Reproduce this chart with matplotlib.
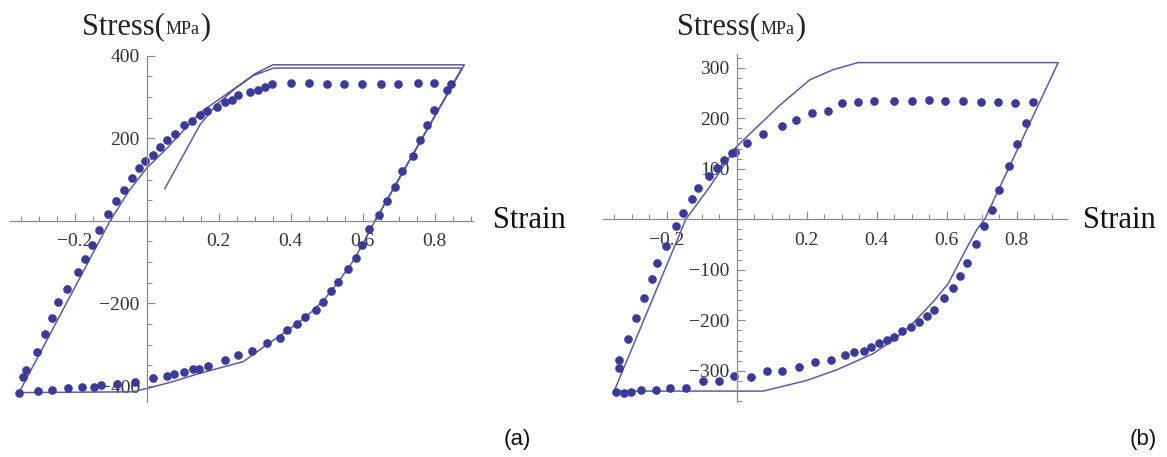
import numpy as np
import matplotlib
matplotlib.use('Agg')
import matplotlib.pyplot as plt
import matplotlib.ticker as ticker

# ---- panel (a) : measured points and fitted loop ----
a_dot_x = [-0.355, -0.343, -0.336, -0.304, -0.282, -0.264, -0.246, -0.223, -0.192, -0.173,
           -0.153, -0.132, -0.108, -0.086, -0.063, -0.040, -0.022, -0.005, 0.017, 0.037,
           0.056, 0.077, 0.102, 0.126, 0.148, 0.168, 0.196, 0.218, 0.238, 0.254,
           0.287, 0.308, 0.327, 0.347, 0.401, 0.451, 0.500, 0.549, 0.599, 0.651,
           0.697, 0.753, 0.799, 0.845, 0.833, 0.799, 0.778, 0.759, 0.738, 0.710,
           0.688, 0.668, 0.645, 0.618, 0.599, 0.581, 0.558, 0.532, 0.511, 0.488,
           0.469, 0.440, 0.417, 0.390, 0.370, 0.333, 0.293, 0.254, 0.218, 0.169,
           0.145, 0.127, 0.102, 0.076, 0.057, 0.017, -0.033, -0.083, -0.128, -0.148,
           -0.181, -0.218, -0.262, -0.303]
a_dot_y = [-416, -379, -361, -317, -274, -236, -197, -166, -123, -92,
           -58, -22, 17, 47, 75, 103, 127, 144, 159, 179,
           196, 211, 231, 242, 256, 267, 276, 288, 293, 304,
           312, 318, 323, 331, 334, 334, 331, 331, 331, 331,
           331, 334, 334, 331, 316, 269, 231, 195, 158, 121,
           82, 47, 13, -20, -58, -90, -117, -147, -170, -196,
           -216, -232, -250, -264, -284, -297, -314, -326, -337, -352,
           -359, -359, -365, -371, -375, -381, -390, -395, -398, -403,
           -403, -406, -410, -412]

a_line_x = [0.05, 0.148, 0.19, 0.245, 0.30, 0.35, 0.882, 0.634, 0.60, 0.575, 0.53, 0.488,
            0.44, 0.39, 0.333, 0.268, 0.148, 0.07, 0.0, -0.04, -0.355, -0.102, -0.051,
            0.0, 0.056, 0.148, 0.241, 0.296, 0.352, 0.875, 0.634]
a_line_y = [78, 233, 278, 320, 356, 378, 378, 0, -55, -95, -150, -196,
            -234, -266, -300, -341, -369, -390, -406, -414, -416, 0, 71,
            128, 176, 262, 319, 352, 370, 370, 0]

# ---- panel (b) ----
b_dot_x = [-0.345, -0.335, -0.335, -0.311, -0.288, -0.265, -0.243, -0.227, -0.202, -0.174,
           -0.153, -0.127, -0.111, -0.079, -0.057, -0.035, -0.014, -0.005, 0.031, 0.076,
           0.129, 0.171, 0.214, 0.260, 0.302, 0.346, 0.392, 0.449, 0.500, 0.549,
           0.595, 0.646, 0.698, 0.746, 0.795, 0.846, 0.827, 0.802, 0.779, 0.750,
           0.729, 0.707, 0.683, 0.659, 0.638, 0.617, 0.592, 0.564, 0.543, 0.521,
           0.497, 0.474, 0.450, 0.430, 0.407, 0.384, 0.364, 0.335, 0.311, 0.269,
           0.224, 0.179, 0.131, 0.087, 0.040, -0.007, -0.050, -0.097, -0.146, -0.191,
           -0.231, -0.274, -0.303, -0.321]
b_dot_y = [-341, -295, -278, -237, -195, -156, -119, -86, -53, -13,
           12, 40, 62, 86, 101, 118, 131, 134, 151, 169,
           184, 197, 211, 215, 230, 232, 234, 234, 234, 236,
           234, 234, 232, 232, 231, 232, 190, 149, 106, 57,
           19, -14, -49, -87, -112, -136, -156, -179, -191, -203,
           -214, -221, -232, -239, -245, -253, -260, -262, -268, -278,
           -283, -292, -300, -300, -313, -310, -321, -321, -333, -333,
           -337, -337, -341, -343]

b_line_x = [-0.35, -0.145, -0.076, 0.0, 0.124, 0.209, 0.276, 0.347, 0.919, 0.709, 0.686,
            0.652, 0.605, 0.562, 0.495, 0.447, 0.39, 0.286, 0.2, 0.1, 0.076, -0.35]
b_line_y = [-340, 0, 65, 144, 226, 276, 296, 310, 310, 0, -21,
            -64, -127, -163, -212, -239, -266, -298, -319, -336, -340, -340]

a_yticks = [-400, -200, 200, 400]
b_yticks = [-300, -200, -100, 100, 200, 300]
xticks = [-0.2, 0.2, 0.4, 0.6, 0.8]

dot_color = '#3a3a98'
line_color = '#5b5bab'
axis_color = '#8a8a8a'
serif = 'Liberation Serif'

fig = plt.figure(figsize=(11.67, 4.57), dpi=100)


def fmt(v, pos=None):
    s = ('%g' % v)
    return s.replace('-', '\u2212')


def setup_axes(ax, xlim, ylim, yticks, yminor):
    ax.set_xlim(*xlim)
    ax.set_ylim(*ylim)
    for side in ['top', 'right']:
        ax.spines[side].set_visible(False)
    for side in ['left', 'bottom']:
        ax.spines[side].set_position(('data', 0))
        ax.spines[side].set_color(axis_color)
        ax.spines[side].set_linewidth(0.9)
    ax.set_xticks(xticks)
    ax.set_yticks(yticks)
    ax.xaxis.set_minor_locator(ticker.MultipleLocator(0.05))
    ax.yaxis.set_minor_locator(ticker.MultipleLocator(yminor))
    ax.xaxis.set_major_formatter(ticker.FuncFormatter(fmt))
    ax.yaxis.set_major_formatter(ticker.FuncFormatter(fmt))
    ax.tick_params(which='major', direction='in', length=6, width=0.8, color=axis_color,
                   labelsize=14, labelcolor='#333333')
    ax.tick_params(which='minor', direction='in', length=3.5, width=0.7, color=axis_color)
    ax.tick_params(axis='x', which='major', pad=9)
    ax.tick_params(axis='y', which='major', pad=5)
    for lab in ax.get_xticklabels() + ax.get_yticklabels():
        lab.set_fontfamily(serif)
    ax.patch.set_alpha(0)


def add_title(x_px, base_px):
    W, H = 1167.0, 457.0
    t1 = fig.text(x_px / W, 1 - base_px / H, 'Stress(', fontsize=22, family=serif,
                  color='#222222', va='baseline')
    t2 = fig.text(0, 0, 'MPa', fontsize=13, family=serif, color='#222222', va='baseline')
    t3 = fig.text(0, 0, ')', fontsize=22, family=serif, color='#222222', va='baseline')
    fig.canvas.draw()
    r = fig.canvas.get_renderer()
    bb1 = t1.get_window_extent(r)
    t2.set_position(((bb1.x1 + 1) / W, 1 - base_px / H))
    bb2 = t2.get_window_extent(r)
    t3.set_position(((bb2.x1 + 1) / W, 1 - base_px / H))


# panel (a)
ax1 = fig.add_axes([10 / 1167, 55.3 / 457, 463 / 1167, 346 / 457])
setup_axes(ax1, (-0.38, 0.906), (-438, 400), a_yticks, 50)
ax1.plot(a_line_x, a_line_y, color=line_color, lw=1.1, clip_on=False)
ax1.plot(a_dot_x, a_dot_y, 'o', color=dot_color, ms=5.2, clip_on=False)
fig.text(493 / 1167, 1 - 221 / 457, 'Strain', fontsize=22, family=serif, color='#111111',
         va='center', ha='left')
add_title(81.7, 34.3)

# panel (b)
ax2 = fig.add_axes([603.3 / 1167, 55.3 / 457, 464 / 1167, 347.7 / 457])
setup_axes(ax2, (-0.381, 0.945), (-361, 327), b_yticks, 20)
ax2.plot(b_line_x, b_line_y, color=line_color, lw=1.1, clip_on=False)
ax2.plot(b_dot_x, b_dot_y, 'o', color=dot_color, ms=5.2, clip_on=False)
fig.text(1083 / 1167, 1 - 220 / 457, 'Strain', fontsize=22, family=serif, color='#111111',
         va='center', ha='left')
add_title(676.7, 34.3)

fig.text(517 / 1167, 1 - 440 / 457, '(a)', fontsize=16, family='Liberation Sans',
         ha='center', va='center', color='#111111')
fig.text(1143 / 1167, 1 - 440 / 457, '(b)', fontsize=16, family='Liberation Sans',
         ha='center', va='center', color='#111111')

fig.savefig('out.png', dpi=100)
